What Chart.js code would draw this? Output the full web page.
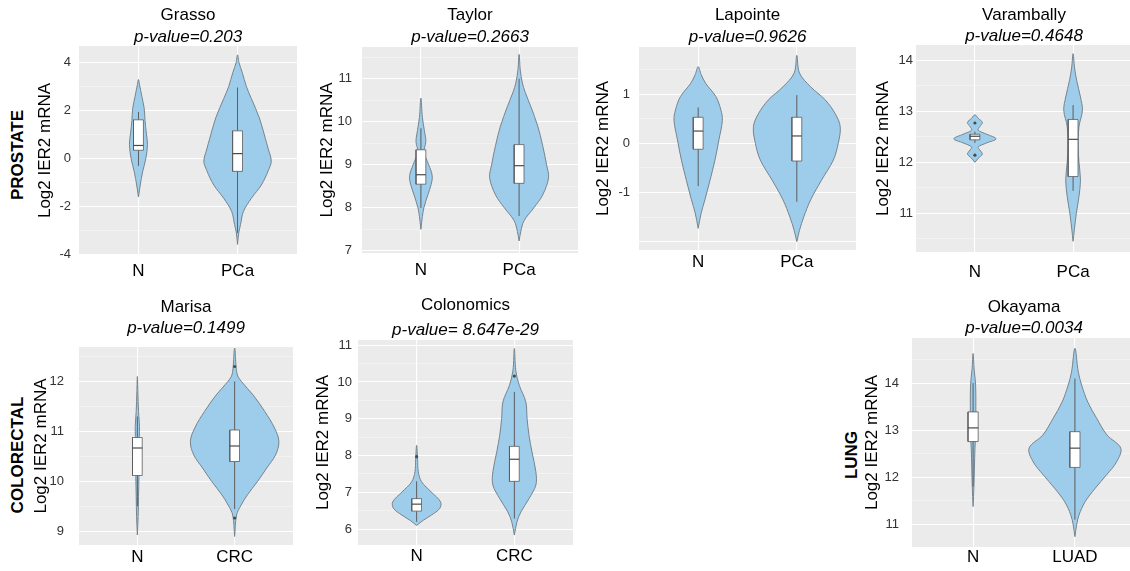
<!DOCTYPE html>
<html>
<head>
<meta charset="utf-8">
<script src="https://cdn.jsdelivr.net/npm/chart.js@4.4.0/dist/chart.umd.min.js"></script>
<style>
  html, body { margin: 0; padding: 0; background: #fff; overflow: hidden; }
  body { width: 1130px; height: 571px; position: relative; font-family: "Liberation Sans", Arial, sans-serif; }
  canvas { position: absolute; }
  .row-label { position: absolute; font-weight: bold; font-size: 17px; color: #000;
               transform: translate(-50%, -50%) rotate(-90deg); white-space: nowrap; }
</style>
</head>
<body>
<div class="row-label" style="left:18px; top:155px">PROSTATE</div>
<div class="row-label" style="left:18px; top:455px">COLORECTAL</div>
<div class="row-label" style="left:852px; top:455px">LUNG</div>
<script>
// ---- data ----
const PANEL_TITLES = ['Grasso', 'Taylor', 'Lapointe', 'Varambally', 'Marisa', 'Colonomics', 'Okayama'];
const P_VALUES = ['p-value=0.203', 'p-value=0.2663', 'p-value=0.9626', 'p-value=0.4648',
                  'p-value=0.1499', 'p-value= 8.647e-29', 'p-value=0.0034'];
const GROUPS = [['N', 'PCa'], ['N', 'PCa'], ['N', 'PCa'], ['N', 'PCa'], ['N', 'CRC'], ['N', 'CRC'], ['N', 'LUAD']];
const Y_RANGES = [[-4.02, 4.7], [6.95, 11.74], [-2.17, 1.96], [10.24, 14.3], [8.73, 12.69], [5.57, 11.14], [10.52, 14.96]];
const Y_MAJOR_STEP = [2, 1, 1, 1, 1, 1, 1];
const Y_TICK_LABELS = [[-4, -2, 0, 2, 4], [7, 8, 9, 10, 11], [-1, 0, 1], [11, 12, 13, 14],
                       [9, 10, 11, 12], [6, 7, 8, 9, 10, 11], [11, 12, 13, 14]];

// violin outlines: [log2 value, half width in category units], bottom to top
const grassoN = [[-1.6, 0], [-1.1, 0.018], [-0.55, 0.042], [0, 0.074], [0.6, 0.091], [1.07, 0.079],
                 [1.6, 0.066], [2.1, 0.058], [2.6, 0.034], [3.1, 0.01], [3.3, 0]];
const grassoPCa = [[-3.58, 0], [-3.1, 0.012], [-2.75, 0.03], [-2.2, 0.06], [-1.65, 0.14], [-1.1, 0.24],
                   [-0.5, 0.31], [-0.1, 0.34], [0.4, 0.31], [0.85, 0.28], [1.7, 0.22], [2.5, 0.14],
                   [3.0, 0.09], [3.6, 0.047], [4.0, 0.015], [4.33, 0]];
const taylorN = [[7.5, 0], [7.8, 0.015], [8.0, 0.03], [8.3, 0.07], [8.55, 0.105], [8.75, 0.115], [9.0, 0.08],
                 [9.3, 0.032], [9.54, 0.05], [9.8, 0.035], [10.1, 0.015], [10.55, 0]];
const taylorPCa = [[7.23, 0], [7.45, 0.017], [7.7, 0.05], [8.0, 0.15], [8.3, 0.24], [8.7, 0.30], [9.0, 0.28],
                   [9.45, 0.24], [9.9, 0.19], [10.35, 0.12], [10.7, 0.06], [10.9, 0.034], [11.2, 0.012], [11.57, 0]];
const lapointeN = [[-1.73, 0], [-1.42, 0.03], [-1.15, 0.068], [-0.75, 0.12], [-0.34, 0.17], [0.07, 0.21],
                   [0.47, 0.245], [0.68, 0.23], [0.95, 0.18], [1.22, 0.076], [1.4, 0.03], [1.56, 0]];
const lapointePCa = [[-2.0, 0], [-1.77, 0.027], [-1.5, 0.07], [-1.15, 0.14], [-0.75, 0.25], [-0.34, 0.37],
                     [0.0, 0.42], [0.34, 0.44], [0.6, 0.39], [0.88, 0.29], [1.15, 0.14], [1.43, 0.027], [1.79, 0]];
const varamballyN = [[12.0, 0], [12.08, 0.035], [12.16, 0.075], [12.24, 0.05], [12.3, 0.033], [12.38, 0.12],
                     [12.46, 0.215], [12.55, 0.12], [12.63, 0.033], [12.7, 0.05], [12.78, 0.076], [12.86, 0.035], [12.93, 0]];
const varamballyPCa = [[10.45, 0], [10.68, 0.013], [11.0, 0.033], [11.33, 0.06], [11.65, 0.075], [12.0, 0.06],
                       [12.3, 0.052], [12.7, 0.06], [13.02, 0.095], [13.28, 0.075], [13.61, 0.036], [13.85, 0.015], [14.13, 0]];
const marisaN = [[8.93, 0], [9.3, 0.008], [9.7, 0.012], [10.1, 0.016], [10.5, 0.018], [10.9, 0.02],
                 [11.1, 0.022], [11.4, 0.012], [11.8, 0.005], [12.1, 0]];
const marisaCRC = [[8.9, 0], [9.33, 0.02], [9.53, 0.067], [9.73, 0.13], [10.0, 0.235], [10.27, 0.33], [10.53, 0.42],
                   [10.8, 0.455], [11.07, 0.41], [11.4, 0.31], [11.73, 0.19], [12.0, 0.07], [12.15, 0.025], [12.67, 0]];
const colonomicsN = [[6.1, 0], [6.24, 0.067], [6.38, 0.15], [6.56, 0.235], [6.74, 0.245], [7.01, 0.15],
                     [7.29, 0.05], [7.56, 0.017], [7.9, 0.01], [8.28, 0]];
const colonomicsCRC = [[5.84, 0], [6.2, 0.027], [6.47, 0.067], [6.83, 0.15], [7.2, 0.22], [7.56, 0.22], [8.1, 0.18],
                       [8.55, 0.15], [9.01, 0.13], [9.46, 0.117], [9.91, 0.05], [10.3, 0.015], [10.91, 0]];
const okayamaN = [[11.38, 0], [11.8, 0.008], [12.2, 0.013], [12.6, 0.018], [13.0, 0.027], [13.5, 0.027],
                  [13.96, 0.025], [14.3, 0.01], [14.63, 0]];
const okayamaLUAD = [[10.74, 0], [10.99, 0.017], [11.2, 0.04], [11.48, 0.1], [11.77, 0.2], [12.05, 0.31], [12.33, 0.41],
                     [12.62, 0.45], [12.9, 0.315], [13.25, 0.215], [13.6, 0.126], [13.96, 0.066], [14.24, 0.033], [14.74, 0]];

// [lower whisker, q1, median, q3, upper whisker]
const BOX_STATS = [
  [[-0.3, 0.35, 0.55, 1.62, 1.95], [-3.1, -0.53, 0.21, 1.16, 2.97]],
  [[8.0, 8.55, 8.77, 9.35, 9.85], [7.81, 8.57, 8.98, 9.47, 11.0]],
  [[-0.87, -0.12, 0.25, 0.53, 0.73], [-1.19, -0.36, 0.15, 0.53, 0.98]],
  [[12.38, 12.44, 12.51, 12.55, 12.6], [11.44, 11.72, 12.45, 12.84, 13.12]],
  [[9.5, 10.12, 10.67, 10.88, 11.3], [9.45, 10.4, 10.71, 11.03, 12.0]],
  [[6.2, 6.49, 6.68, 6.83, 7.3], [6.29, 7.3, 7.9, 8.25, 9.73]],
  [[11.8, 12.76, 13.05, 13.39, 14.0], [11.1, 12.21, 12.62, 12.97, 14.1]]
];
const OUTLIERS = [[[], []], [[], []], [[], []], [[12.77, 12.14], []], [[], [12.3, 9.27]], [[7.97], [10.16]], [[], []]];

const VIOLINS = [[grassoN, grassoPCa], [taylorN, taylorPCa], [lapointeN, lapointePCa], [varamballyN, varamballyPCa],
                 [marisaN, marisaCRC], [colonomicsN, colonomicsCRC], [okayamaN, okayamaLUAD]];

// ---- page layout (pixels) ----
const LAYOUT = [
  { plot: [79, 46, 297, 255],    titleY: 15,  subY: 37,  axisX: 45,  tickRight: 71,  labelY: 271 },
  { plot: [362, 47, 578, 253],   titleY: 15,  subY: 37,  axisX: 327, tickRight: 352, labelY: 270 },
  { plot: [639, 47, 856, 250],   titleY: 15,  subY: 37,  axisX: 603, tickRight: 630, labelY: 262 },
  { plot: [916, 45, 1136, 252],  titleY: 15,  subY: 36,  axisX: 883, tickRight: 913, labelY: 272 },
  { plot: [79, 347, 297, 545],   titleY: 307, subY: 328, axisX: 41,  tickRight: 64,  labelY: 557 },
  { plot: [358, 340, 577, 545],  titleY: 305, subY: 330, axisX: 323, tickRight: 352, labelY: 556 },
  { plot: [912, 338, 1136, 547], titleY: 307, subY: 328, axisX: 872, tickRight: 899, labelY: 557 }
];
const X_AXIS_H = 30;
const BOX_HALF = 0.05;
const VIOLIN_FILL = '#9ecdeb';
const VIOLIN_EDGE = '#76848e';
const BOX_EDGE = '#5c5c5c';

Chart.defaults.font.family = '"Liberation Sans", Arial, Helvetica, sans-serif';
Chart.defaults.color = '#333';

// gray ggplot-style panel background
const panelBg = {
  id: 'panelBg',
  beforeDraw(chart) {
    const { ctx, chartArea: a } = chart;
    ctx.save();
    ctx.fillStyle = '#ebebeb';
    ctx.fillRect(a.left, a.top, a.right - a.left, a.bottom - a.top);
    ctx.restore();
  }
};

PANEL_TITLES.forEach((name, p) => {
  const L = LAYOUT[p];
  const [pl, pt, pr, pb] = L.plot;
  const cl = Math.round(L.axisX - 10);
  const ct = Math.round(L.titleY - 8.5);
  const canvas = document.createElement('canvas');
  canvas.width = pr - cl;
  canvas.height = pb + X_AXIS_H - ct;
  canvas.style.left = cl + 'px';
  canvas.style.top = ct + 'px';
  document.body.appendChild(canvas);

  const tPadTop = L.titleY - 8.5 - ct;
  const tPadBot = L.subY - L.titleY - 17;
  const sPadBot = pt - ct - tPadTop - 34 - tPadBot;

  const majorStep = Y_MAJOR_STEP[p];
  const isMajor = v => Math.abs(v / majorStep - Math.round(v / majorStep)) < 1e-6;

  const datasets = [];
  [1, 2].forEach((c, g) => {
    const prof = VIOLINS[p][g];
    const right = prof.map(([y, hw]) => ({ x: c + hw, y }));
    const left = prof.slice(1, -1).reverse().map(([y, hw]) => ({ x: c - hw, y }));
    datasets.push({
      data: [...right, ...left, right[0]], showLine: true, fill: 'shape',
      backgroundColor: VIOLIN_FILL, borderColor: VIOLIN_EDGE, borderWidth: 1,
      pointRadius: 0, tension: 0.35, order: 4
    });
    const [lo, q1, med, q3, hi] = BOX_STATS[p][g];
    datasets.push({
      data: [{ x: c, y: lo }, { x: c, y: hi }], showLine: true,
      borderColor: BOX_EDGE, borderWidth: 1, pointRadius: 0, order: 3
    });
    datasets.push({
      data: [{ x: c - BOX_HALF, y: q1 }, { x: c + BOX_HALF, y: q1 }, { x: c + BOX_HALF, y: q3 },
             { x: c - BOX_HALF, y: q3 }, { x: c - BOX_HALF, y: q1 }],
      showLine: true, fill: 'shape', backgroundColor: '#ffffff', borderColor: BOX_EDGE,
      borderWidth: 0.8, pointRadius: 0, tension: 0, order: 2
    });
    datasets.push({
      data: [{ x: c - BOX_HALF, y: med }, { x: c + BOX_HALF, y: med }], showLine: true,
      borderColor: '#4a4a4a', borderWidth: 1.2, pointRadius: 0, order: 1
    });
    if (OUTLIERS[p][g].length) {
      datasets.push({
        data: OUTLIERS[p][g].map(y => ({ x: c, y })), showLine: false,
        pointRadius: 1.6, backgroundColor: '#4a4a4a', borderWidth: 0, order: 0
      });
    }
  });

  new Chart(canvas, {
    type: 'scatter',
    data: { datasets },
    options: {
      responsive: false,
      animation: false,
      events: [],
      layout: { padding: 0 },
      plugins: {
        legend: { display: false },
        tooltip: { enabled: false },
        title: {
          display: true, text: name, fullSize: false, color: '#000',
          font: { size: 17, weight: 'normal', lineHeight: 1 },
          padding: { top: tPadTop, bottom: tPadBot }
        },
        subtitle: {
          display: true, text: P_VALUES[p], fullSize: false, color: '#000',
          font: { size: 17, style: 'italic', lineHeight: 1 },
          padding: { top: 0, bottom: sPadBot }
        }
      },
      scales: {
        x: {
          type: 'linear', min: 0.4, max: 2.6,
          afterFit: s => { s.height = X_AXIS_H; },
          border: { display: false },
          grid: { color: '#ffffff', lineWidth: 1.1, drawTicks: false },
          ticks: {
            stepSize: 1, autoSkip: false, includeBounds: false, maxRotation: 0,
            padding: L.labelY - pb - 10.2, color: '#000', font: { size: 17 },
            callback: v => GROUPS[p][v - 1] ?? ''
          }
        },
        y: {
          type: 'linear', min: Y_RANGES[p][0], max: Y_RANGES[p][1],
          afterFit: s => { s.width = pl - cl; },
          border: { display: false },
          grid: {
            drawTicks: false,
            color: ctx => isMajor(ctx.tick.value) ? '#ffffff' : 'rgba(255,255,255,0.6)',
            lineWidth: ctx => isMajor(ctx.tick.value) ? 1.1 : 0.6
          },
          ticks: {
            stepSize: majorStep / 2, autoSkip: false, includeBounds: false,
            padding: pl - L.tickRight, color: '#333', font: { size: 13 },
            callback: v => Y_TICK_LABELS[p].includes(v) ? String(v) : ''
          },
          title: {
            display: true, text: 'Log2 IER2 mRNA', color: '#000',
            font: { size: 17, lineHeight: 1.2 }, padding: { top: 0, bottom: 0 }
          }
        }
      }
    },
    plugins: [panelBg]
  });
});
</script>
</body>
</html>
